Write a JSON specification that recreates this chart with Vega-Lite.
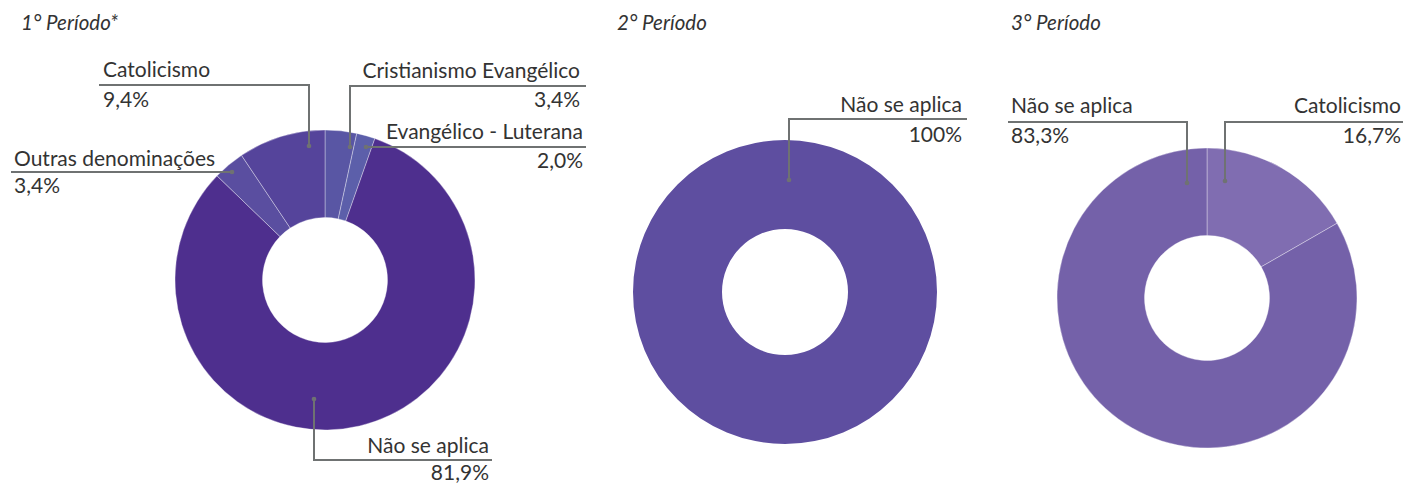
{
  "$schema": "https://vega.github.io/schema/vega-lite/v6.json",
  "width": 1405,
  "height": 483,
  "autosize": {"type": "none"},
  "padding": 0,
  "background": "#ffffff",
  "config": {
    "view": {"stroke": null},
    "text": {"font": "Lato", "fontSize": 21, "color": "#333333", "baseline": "alphabetic"},
    "rule": {"color": "#6f7272", "strokeWidth": 2, "strokeCap": "butt"},
    "point": {"filled": true, "color": "#6f7272", "size": 22, "opacity": 1, "shape": "circle"}
  },
  "datasets": {
    "religiao": [
      {"periodo": "1° Período*", "categoria": "Cristianismo Evangélico", "valor": 3.4, "rotulo": "3,4%"},
      {"periodo": "1° Período*", "categoria": "Evangélico - Luterana", "valor": 2.0, "rotulo": "2,0%"},
      {"periodo": "1° Período*", "categoria": "Não se aplica", "valor": 81.9, "rotulo": "81,9%"},
      {"periodo": "1° Período*", "categoria": "Outras denominações", "valor": 3.4, "rotulo": "3,4%"},
      {"periodo": "1° Período*", "categoria": "Catolicismo", "valor": 9.4, "rotulo": "9,4%"},
      {"periodo": "2° Período", "categoria": "Não se aplica", "valor": 100, "rotulo": "100%"},
      {"periodo": "3° Período", "categoria": "Catolicismo", "valor": 16.7, "rotulo": "16,7%"},
      {"periodo": "3° Período", "categoria": "Não se aplica", "valor": 83.3, "rotulo": "83,3%"}
    ]
  },
  "data": {"name": "religiao"},
  "transform": [{"window": [{"op": "row_number", "as": "ordem"}]}],
  "encoding": {
    "x": {
      "field": "periodo", "type": "nominal", "axis": null,
      "scale": {"type": "point", "domain": ["1° Período*", "2° Período", "3° Período"], "range": [325, 1207], "padding": 0}
    },
    "y": {
      "field": "periodo", "type": "nominal", "axis": null,
      "scale": {"type": "point", "domain": ["1° Período*", "2° Período", "3° Período"], "range": [280, 298], "padding": 0}
    }
  },
  "layer": [
    {
      "transform": [{"filter": "datum.periodo === '1° Período*'"}],
      "mark": {"type": "arc", "innerRadius": 62.5, "outerRadius": 150, "stroke": "#ffffff", "strokeWidth": 1, "strokeOpacity": 0.35},
      "encoding": {
        "theta": {"field": "valor", "type": "quantitative", "stack": true},
        "order": {"field": "ordem", "type": "quantitative"},
        "color": {"field": "categoria", "type": "nominal", "legend": null,
          "scale": {"domain": ["Cristianismo Evangélico", "Evangélico - Luterana", "Não se aplica", "Outras denominações", "Catolicismo"],
                    "range": ["#5956a4", "#5c5faa", "#4e2f8e", "#5a4ea0", "#55449b"]}}
      }
    },
    {
      "transform": [{"filter": "datum.periodo === '2° Período'"}],
      "mark": {"type": "arc", "innerRadius": 63, "outerRadius": 152, "xOffset": 19, "yOffset": 3},
      "encoding": {
        "theta": {"field": "valor", "type": "quantitative", "stack": true},
        "order": {"field": "ordem", "type": "quantitative"},
        "color": {"field": "categoria", "type": "nominal", "legend": null,
          "scale": {"domain": ["Não se aplica"], "range": ["#5e4ea0"]}}
      }
    },
    {
      "transform": [{"filter": "datum.periodo === '3° Período'"}],
      "mark": {"type": "arc", "innerRadius": 62.5, "outerRadius": 150, "stroke": "#ffffff", "strokeWidth": 1, "strokeOpacity": 0.35},
      "encoding": {
        "theta": {"field": "valor", "type": "quantitative", "stack": true},
        "order": {"field": "ordem", "type": "quantitative"},
        "color": {"field": "categoria", "type": "nominal", "legend": null,
          "scale": {"domain": ["Catolicismo", "Não se aplica"], "range": ["#806db1", "#7461a9"]}}
      }
    },
    {
      "transform": [{"filter": "datum.periodo === '1° Período*'"}, {"aggregate": [{"op": "count", "as": "n"}], "groupby": ["periodo"]}],
      "mark": {"type": "text", "align": "left", "dx": -304, "dy": -250, "fontSize": 20.5, "fontStyle": "italic"},
      "encoding": {"text": {"field": "periodo"}}
    },
    {
      "transform": [{"filter": "datum.periodo === '2° Período'"}, {"aggregate": [{"op": "count", "as": "n"}], "groupby": ["periodo"]}],
      "mark": {"type": "text", "align": "left", "dx": -149, "dy": -259, "fontSize": 20.5, "fontStyle": "italic"},
      "encoding": {"text": {"field": "periodo"}}
    },
    {
      "transform": [{"filter": "datum.periodo === '3° Período'"}, {"aggregate": [{"op": "count", "as": "n"}], "groupby": ["periodo"]}],
      "mark": {"type": "text", "align": "left", "dx": -196, "dy": -268, "fontSize": 20.5, "fontStyle": "italic"},
      "encoding": {"text": {"field": "periodo"}}
    },
    {
      "transform": [{"filter": "datum.periodo === '1° Período*' && datum.categoria === 'Catolicismo'"}],
      "layer": [
        {"mark": {"type": "text", "align": "left", "dx": -222, "dy": -203}, "encoding": {"text": {"field": "categoria"}}},
        {"mark": {"type": "text", "align": "left", "dx": -222, "dy": -173}, "encoding": {"text": {"field": "rotulo"}}},
        {"mark": {"type": "rule", "xOffset": -226, "x2Offset": -15, "yOffset": -195, "y2Offset": -195}, "encoding": {"x2": {"field": "periodo"}, "y2": {"field": "periodo"}}},
        {"mark": {"type": "rule", "xOffset": -16, "x2Offset": -16, "yOffset": -196, "y2Offset": -134}, "encoding": {"x2": {"field": "periodo"}, "y2": {"field": "periodo"}}},
        {"mark": {"type": "point", "xOffset": -16, "yOffset": -134}, "encoding": {}}
      ]
    },
    {
      "transform": [{"filter": "datum.periodo === '1° Período*' && datum.categoria === 'Outras denominações'"}],
      "layer": [
        {"mark": {"type": "text", "align": "left", "dx": -311, "dy": -114}, "encoding": {"text": {"field": "categoria"}}},
        {"mark": {"type": "text", "align": "left", "dx": -311, "dy": -87}, "encoding": {"text": {"field": "rotulo"}}},
        {"mark": {"type": "rule", "xOffset": -314, "x2Offset": -93, "yOffset": -108, "y2Offset": -108}, "encoding": {"x2": {"field": "periodo"}, "y2": {"field": "periodo"}}},
        {"mark": {"type": "point", "xOffset": -93, "yOffset": -108}, "encoding": {}}
      ]
    },
    {
      "transform": [{"filter": "datum.periodo === '1° Período*' && datum.categoria === 'Cristianismo Evangélico'"}],
      "layer": [
        {"mark": {"type": "text", "align": "right", "dx": 255, "dy": -202}, "encoding": {"text": {"field": "categoria"}}},
        {"mark": {"type": "text", "align": "right", "dx": 255, "dy": -173}, "encoding": {"text": {"field": "rotulo"}}},
        {"mark": {"type": "rule", "xOffset": 24, "x2Offset": 261, "yOffset": -194, "y2Offset": -194}, "encoding": {"x2": {"field": "periodo"}, "y2": {"field": "periodo"}}},
        {"mark": {"type": "rule", "xOffset": 25, "x2Offset": 25, "yOffset": -195, "y2Offset": -133}, "encoding": {"x2": {"field": "periodo"}, "y2": {"field": "periodo"}}},
        {"mark": {"type": "point", "xOffset": 25, "yOffset": -133}, "encoding": {}}
      ]
    },
    {
      "transform": [{"filter": "datum.periodo === '1° Período*' && datum.categoria === 'Evangélico - Luterana'"}],
      "layer": [
        {"mark": {"type": "text", "align": "right", "dx": 258, "dy": -141}, "encoding": {"text": {"field": "categoria"}}},
        {"mark": {"type": "text", "align": "right", "dx": 258, "dy": -112}, "encoding": {"text": {"field": "rotulo"}}},
        {"mark": {"type": "rule", "xOffset": 41, "x2Offset": 261, "yOffset": -133, "y2Offset": -133}, "encoding": {"x2": {"field": "periodo"}, "y2": {"field": "periodo"}}},
        {"mark": {"type": "point", "xOffset": 41, "yOffset": -133}, "encoding": {}}
      ]
    },
    {
      "transform": [{"filter": "datum.periodo === '1° Período*' && datum.categoria === 'Não se aplica'"}],
      "layer": [
        {"mark": {"type": "text", "align": "right", "dx": 164, "dy": 173}, "encoding": {"text": {"field": "categoria"}}},
        {"mark": {"type": "text", "align": "right", "dx": 164, "dy": 200}, "encoding": {"text": {"field": "rotulo"}}},
        {"mark": {"type": "rule", "xOffset": -11, "x2Offset": -11, "yOffset": 119, "y2Offset": 181}, "encoding": {"x2": {"field": "periodo"}, "y2": {"field": "periodo"}}},
        {"mark": {"type": "rule", "xOffset": -12, "x2Offset": 167, "yOffset": 180, "y2Offset": 180}, "encoding": {"x2": {"field": "periodo"}, "y2": {"field": "periodo"}}},
        {"mark": {"type": "point", "xOffset": -11, "yOffset": 119}, "encoding": {}}
      ]
    },
    {
      "transform": [{"filter": "datum.periodo === '2° Período' && datum.categoria === 'Não se aplica'"}],
      "layer": [
        {"mark": {"type": "text", "align": "right", "dx": 196, "dy": -177}, "encoding": {"text": {"field": "categoria"}}},
        {"mark": {"type": "text", "align": "right", "dx": 196, "dy": -147}, "encoding": {"text": {"field": "rotulo"}}},
        {"mark": {"type": "rule", "xOffset": 22, "x2Offset": 201, "yOffset": -170, "y2Offset": -170}, "encoding": {"x2": {"field": "periodo"}, "y2": {"field": "periodo"}}},
        {"mark": {"type": "rule", "xOffset": 23, "x2Offset": 23, "yOffset": -171, "y2Offset": -109}, "encoding": {"x2": {"field": "periodo"}, "y2": {"field": "periodo"}}},
        {"mark": {"type": "point", "xOffset": 23, "yOffset": -109}, "encoding": {}}
      ]
    },
    {
      "transform": [{"filter": "datum.periodo === '3° Período' && datum.categoria === 'Não se aplica'"}],
      "layer": [
        {"mark": {"type": "text", "align": "left", "dx": -196, "dy": -185}, "encoding": {"text": {"field": "categoria"}}},
        {"mark": {"type": "text", "align": "left", "dx": -196, "dy": -155}, "encoding": {"text": {"field": "rotulo"}}},
        {"mark": {"type": "rule", "xOffset": -199, "x2Offset": -19, "yOffset": -176, "y2Offset": -176}, "encoding": {"x2": {"field": "periodo"}, "y2": {"field": "periodo"}}},
        {"mark": {"type": "rule", "xOffset": -20, "x2Offset": -20, "yOffset": -177, "y2Offset": -115}, "encoding": {"x2": {"field": "periodo"}, "y2": {"field": "periodo"}}},
        {"mark": {"type": "point", "xOffset": -20, "yOffset": -115}, "encoding": {}}
      ]
    },
    {
      "transform": [{"filter": "datum.periodo === '3° Período' && datum.categoria === 'Catolicismo'"}],
      "layer": [
        {"mark": {"type": "text", "align": "right", "dx": 194, "dy": -185}, "encoding": {"text": {"field": "categoria"}}},
        {"mark": {"type": "text", "align": "right", "dx": 194, "dy": -155}, "encoding": {"text": {"field": "rotulo"}}},
        {"mark": {"type": "rule", "xOffset": 17, "x2Offset": 196, "yOffset": -176, "y2Offset": -176}, "encoding": {"x2": {"field": "periodo"}, "y2": {"field": "periodo"}}},
        {"mark": {"type": "rule", "xOffset": 18, "x2Offset": 18, "yOffset": -177, "y2Offset": -117}, "encoding": {"x2": {"field": "periodo"}, "y2": {"field": "periodo"}}},
        {"mark": {"type": "point", "xOffset": 18, "yOffset": -117}, "encoding": {}}
      ]
    }
  ],
  "resolve": {"scale": {"theta": "independent", "color": "independent"}}
}
